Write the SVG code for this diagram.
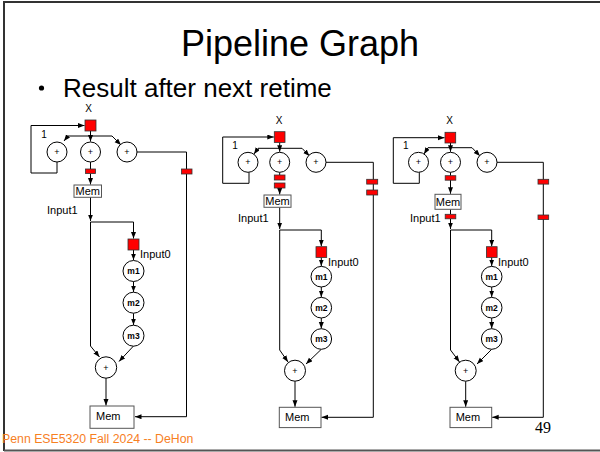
<svg xmlns="http://www.w3.org/2000/svg" width="600" height="452" viewBox="0 0 600 452">
<style>
.t{font-family:"Liberation Sans",Arial,sans-serif;fill:#000}
.ln{fill:none;stroke:#000;stroke-width:1}
.ar{fill:none;stroke:#000;stroke-width:1;marker-end:url(#ah)}
.reg{fill:#ff0000;stroke:#333;stroke-width:0.8}
.op{fill:#fff;stroke:#000;stroke-width:1}
.mem{fill:#fff;stroke:#555;stroke-width:1}
.pl{font-family:"Liberation Sans",Arial,sans-serif;font-size:9px;text-anchor:middle}
.mt{font-family:"Liberation Sans",Arial,sans-serif;font-size:8.5px;font-weight:bold;text-anchor:middle}
.lb{font-family:"Liberation Sans",Arial,sans-serif;font-size:11px}
.sm{font-family:"Liberation Sans",Arial,sans-serif;font-size:10px}
</style>
<defs>
<marker id="ah" markerUnits="userSpaceOnUse" markerWidth="8" markerHeight="6" refX="6.5" refY="2.5" orient="auto">
<path d="M0,0 L6.5,2.5 L0,5 z" fill="#000"/>
</marker>
</defs>
<rect width="600" height="452" fill="#fff"/>
<g id="frame" stroke="#333" stroke-width="2" fill="none">
<path d="M4,451 V2 H600"/>
<path d="M4,450.5 H600" stroke="#555"/>
</g>
<text class="t" x="300" y="56" font-size="36" text-anchor="middle">Pipeline Graph</text>
<circle cx="41.5" cy="88" r="2.6" fill="#000"/>
<text class="t" x="63" y="97" font-size="26">Result after next retime</text>

<g id="connectors">
<!-- graph 1 -->
<path class="ar" d="M57,162 V173 H31 V125.5 H84.5"/>
<path class="ar" d="M90.5,131 V141.5"/>
<path class="ar" d="M90.5,136 H68 L64,141"/>
<path class="ar" d="M90.5,136 H112 L121,145"/>
<path class="ln" d="M90.5,162 V169"/>
<path class="ar" d="M90.5,173.5 V184.5"/>
<path class="ar" d="M90.5,197 V221"/>
<path class="ar" d="M90.5,222 H133.5 V238.5"/>
<path class="ar" d="M90.5,222 V346 L99.5,357"/>
<path class="ar" d="M133.5,250 V260"/>
<path class="ar" d="M133.5,281.5 V292"/>
<path class="ar" d="M133.5,313.2 V325"/>
<path class="ar" d="M133.5,346 L119,361.5"/>
<path class="ar" d="M106,378 V405.5"/>
<path class="ar" d="M137,152 H186.5 V416.7 H135"/>
<!-- graph 2 -->
<path class="ar" d="M249,172.3 V183.3 H222.7 V137 H273.8"/>
<path class="ar" d="M279.7,142.4 V151.8"/>
<path class="ar" d="M279.7,148.3 H258 L254,154"/>
<path class="ar" d="M279.7,148.3 H302 L309.5,156"/>
<path class="ln" d="M279.7,172.3 V175"/>
<path class="ar" d="M279.7,188 V194.5"/>
<path class="ar" d="M279.7,207.3 V229"/>
<path class="ar" d="M279.7,230 H321.3 V246.2"/>
<path class="ar" d="M279.7,230 V350 L288,362"/>
<path class="ar" d="M321.3,257.4 V266"/>
<path class="ar" d="M321.3,287 V297"/>
<path class="ar" d="M321.3,318 V328.5"/>
<path class="ar" d="M321.3,349.3 L306,364"/>
<path class="ar" d="M295,381.2 V406.8"/>
<path class="ar" d="M326,162.3 H373.3 V417.3 H321.5"/>
<!-- graph 3 -->
<path class="ar" d="M419.3,172.3 V183.3 H393.3 V137.7 H444.5"/>
<path class="ar" d="M450.5,143 V151.8"/>
<path class="ar" d="M450.5,147.7 H428 L424,154"/>
<path class="ar" d="M450.5,147.7 H472 L480,156"/>
<path class="ln" d="M450.5,172.3 V175.7"/>
<path class="ar" d="M450.5,180 V193.8"/>
<path class="ln" d="M450.5,209.3 V214.3"/>
<path class="ar" d="M450.5,218.8 V229"/>
<path class="ar" d="M450.5,230 H491.7 V246.2"/>
<path class="ar" d="M450.5,230 V350 L459.5,362"/>
<path class="ar" d="M491.7,257.4 V266"/>
<path class="ar" d="M491.7,287 V297"/>
<path class="ar" d="M491.7,318 V328.5"/>
<path class="ar" d="M491.7,349.3 L477,364"/>
<path class="ar" d="M465.7,381.2 V406.8"/>
<path class="ar" d="M497,162.3 H543.3 V417.3 H492.2"/>
</g>

<!-- Graph 1 nodes -->
<g id="g1-x"><text class="sm" x="88.5" y="112" font-size="9.5" text-anchor="middle">X</text><rect class="reg" x="85" y="120" width="11" height="11"/></g>
<g id="g1-add1"><circle class="op" cx="57" cy="152" r="10"/><text class="pl" x="57" y="155">+</text></g>
<g id="g1-one"><text class="sm" x="44" y="138" text-anchor="middle">1</text></g>
<g id="g1-add2"><circle class="op" cx="90.5" cy="152" r="10"/><text class="pl" x="90.5" y="155">+</text></g>
<g id="g1-add3"><circle class="op" cx="127" cy="152" r="10"/><text class="pl" x="127" y="155">+</text></g>
<g id="g1-r1"><rect class="reg" x="85.5" y="169" width="10" height="4.5"/></g>
<g id="g1-r2"><rect class="reg" x="181.5" y="169" width="10.5" height="5"/></g>
<g id="g1-mem1"><rect class="mem" x="74" y="185" width="27.5" height="12.3"/><text class="lb" x="87.8" y="195" text-anchor="middle">Mem</text></g>
<g id="g1-in1"><text class="lb" x="47" y="214">Input1</text></g>
<g id="g1-in0"><rect class="reg" x="128" y="239" width="11" height="11"/><text class="lb" x="140" y="258">Input0</text></g>
<g id="g1-m1"><circle class="op" cx="133.5" cy="271" r="10.5"/><text class="mt" x="133.5" y="274">m1</text></g>
<g id="g1-m2"><circle class="op" cx="133.5" cy="302.7" r="10.5"/><text class="mt" x="133.5" y="305.7">m2</text></g>
<g id="g1-m3"><circle class="op" cx="133.5" cy="335.7" r="10.5"/><text class="mt" x="133.5" y="338.7">m3</text></g>
<g id="g1-add4"><circle class="op" cx="106" cy="367.5" r="10.7"/><text class="pl" x="106" y="370.5">+</text></g>
<g id="g1-mem2"><rect class="mem" x="90" y="406" width="44" height="22.3"/><text class="lb" x="96" y="420">Mem</text></g>

<!-- Graph 2 nodes -->
<g id="g2-x"><text class="sm" x="279" y="124" text-anchor="middle">X</text><rect class="reg" x="274.3" y="131.7" width="10.7" height="10.7"/></g>
<g id="g2-add1"><circle class="op" cx="248" cy="162.3" r="10"/><text class="pl" x="248" y="165.3">+</text></g>
<g id="g2-one"><text class="sm" x="235" y="149" text-anchor="middle">1</text></g>
<g id="g2-add2"><circle class="op" cx="279.7" cy="162.3" r="10"/><text class="pl" x="279.7" y="165.3">+</text></g>
<g id="g2-add3"><circle class="op" cx="316" cy="162.3" r="10"/><text class="pl" x="316" y="165.3">+</text></g>
<g id="g2-r1"><rect class="reg" x="274.3" y="175" width="10.7" height="5"/></g>
<g id="g2-r2"><rect class="reg" x="274.3" y="183" width="10.7" height="5"/></g>
<g id="g2-r3"><rect class="reg" x="366.7" y="179.3" width="11" height="4.8"/></g>
<g id="g2-r4"><rect class="reg" x="366.7" y="190" width="11" height="5"/></g>
<g id="g2-mem1"><rect class="mem" x="264" y="195" width="27" height="12.3"/><text class="lb" x="277.5" y="205" text-anchor="middle">Mem</text></g>
<g id="g2-in1"><text class="lb" x="238" y="222">Input1</text></g>
<g id="g2-in0"><rect class="reg" x="316" y="246.7" width="10.7" height="10.7"/><text class="lb" x="328" y="265.5">Input0</text></g>
<g id="g2-m1"><circle class="op" cx="321.3" cy="276.7" r="10.3"/><text class="mt" x="321.3" y="279.7">m1</text></g>
<g id="g2-m2"><circle class="op" cx="321.3" cy="307.7" r="10.3"/><text class="mt" x="321.3" y="310.7">m2</text></g>
<g id="g2-m3"><circle class="op" cx="321.3" cy="339" r="10.3"/><text class="mt" x="321.3" y="342">m3</text></g>
<g id="g2-add4"><circle class="op" cx="295" cy="370.7" r="10.5"/><text class="pl" x="295" y="373.7">+</text></g>
<g id="g2-mem2"><rect class="mem" x="279.3" y="407.3" width="41.7" height="20.3"/><text class="lb" x="285" y="421">Mem</text></g>

<!-- Graph 3 nodes -->
<g id="g3-x"><text class="sm" x="449.5" y="124" text-anchor="middle">X</text><rect class="reg" x="445" y="132.3" width="10.7" height="10.7"/></g>
<g id="g3-add1"><circle class="op" cx="418.5" cy="162.3" r="10"/><text class="pl" x="418.5" y="165.3">+</text></g>
<g id="g3-one"><text class="sm" x="405.7" y="149" text-anchor="middle">1</text></g>
<g id="g3-add2"><circle class="op" cx="450.5" cy="162.3" r="10"/><text class="pl" x="450.5" y="165.3">+</text></g>
<g id="g3-add3"><circle class="op" cx="487" cy="162.3" r="10"/><text class="pl" x="487" y="165.3">+</text></g>
<g id="g3-r1"><rect class="reg" x="445.2" y="175.7" width="10.6" height="4.5"/></g>
<g id="g3-r2"><rect class="reg" x="445.2" y="214.3" width="10.6" height="4.5"/></g>
<g id="g3-r3"><rect class="reg" x="538" y="179.3" width="10.7" height="4.8"/></g>
<g id="g3-r4"><rect class="reg" x="538" y="215" width="10.7" height="4.5"/></g>
<g id="g3-mem1"><rect class="mem" x="435" y="194.3" width="26" height="15"/><text class="lb" x="448" y="205.5" text-anchor="middle">Mem</text></g>
<g id="g3-in1"><text class="lb" x="410" y="222">Input1</text></g>
<g id="g3-in0"><rect class="reg" x="486.4" y="246.7" width="10.7" height="10.7"/><text class="lb" x="498" y="265.5">Input0</text></g>
<g id="g3-m1"><circle class="op" cx="491.7" cy="276.7" r="10.3"/><text class="mt" x="491.7" y="279.7">m1</text></g>
<g id="g3-m2"><circle class="op" cx="491.7" cy="307.7" r="10.3"/><text class="mt" x="491.7" y="310.7">m2</text></g>
<g id="g3-m3"><circle class="op" cx="491.7" cy="339" r="10.3"/><text class="mt" x="491.7" y="342">m3</text></g>
<g id="g3-add4"><circle class="op" cx="465.7" cy="370.7" r="10.5"/><text class="pl" x="465.7" y="373.7">+</text></g>
<g id="g3-mem2"><rect class="mem" x="450" y="407.3" width="41.7" height="20.3"/><text class="lb" x="455.7" y="421">Mem</text></g>

<text x="535" y="433" font-family="Liberation Serif,'Times New Roman',serif" font-size="16" fill="#000">49</text>
<text x="2" y="443" font-family="Liberation Sans,Arial,sans-serif" font-size="12.3" fill="#F7801F">Penn ESE5320 Fall 2024 -- DeHon</text>
</svg>
